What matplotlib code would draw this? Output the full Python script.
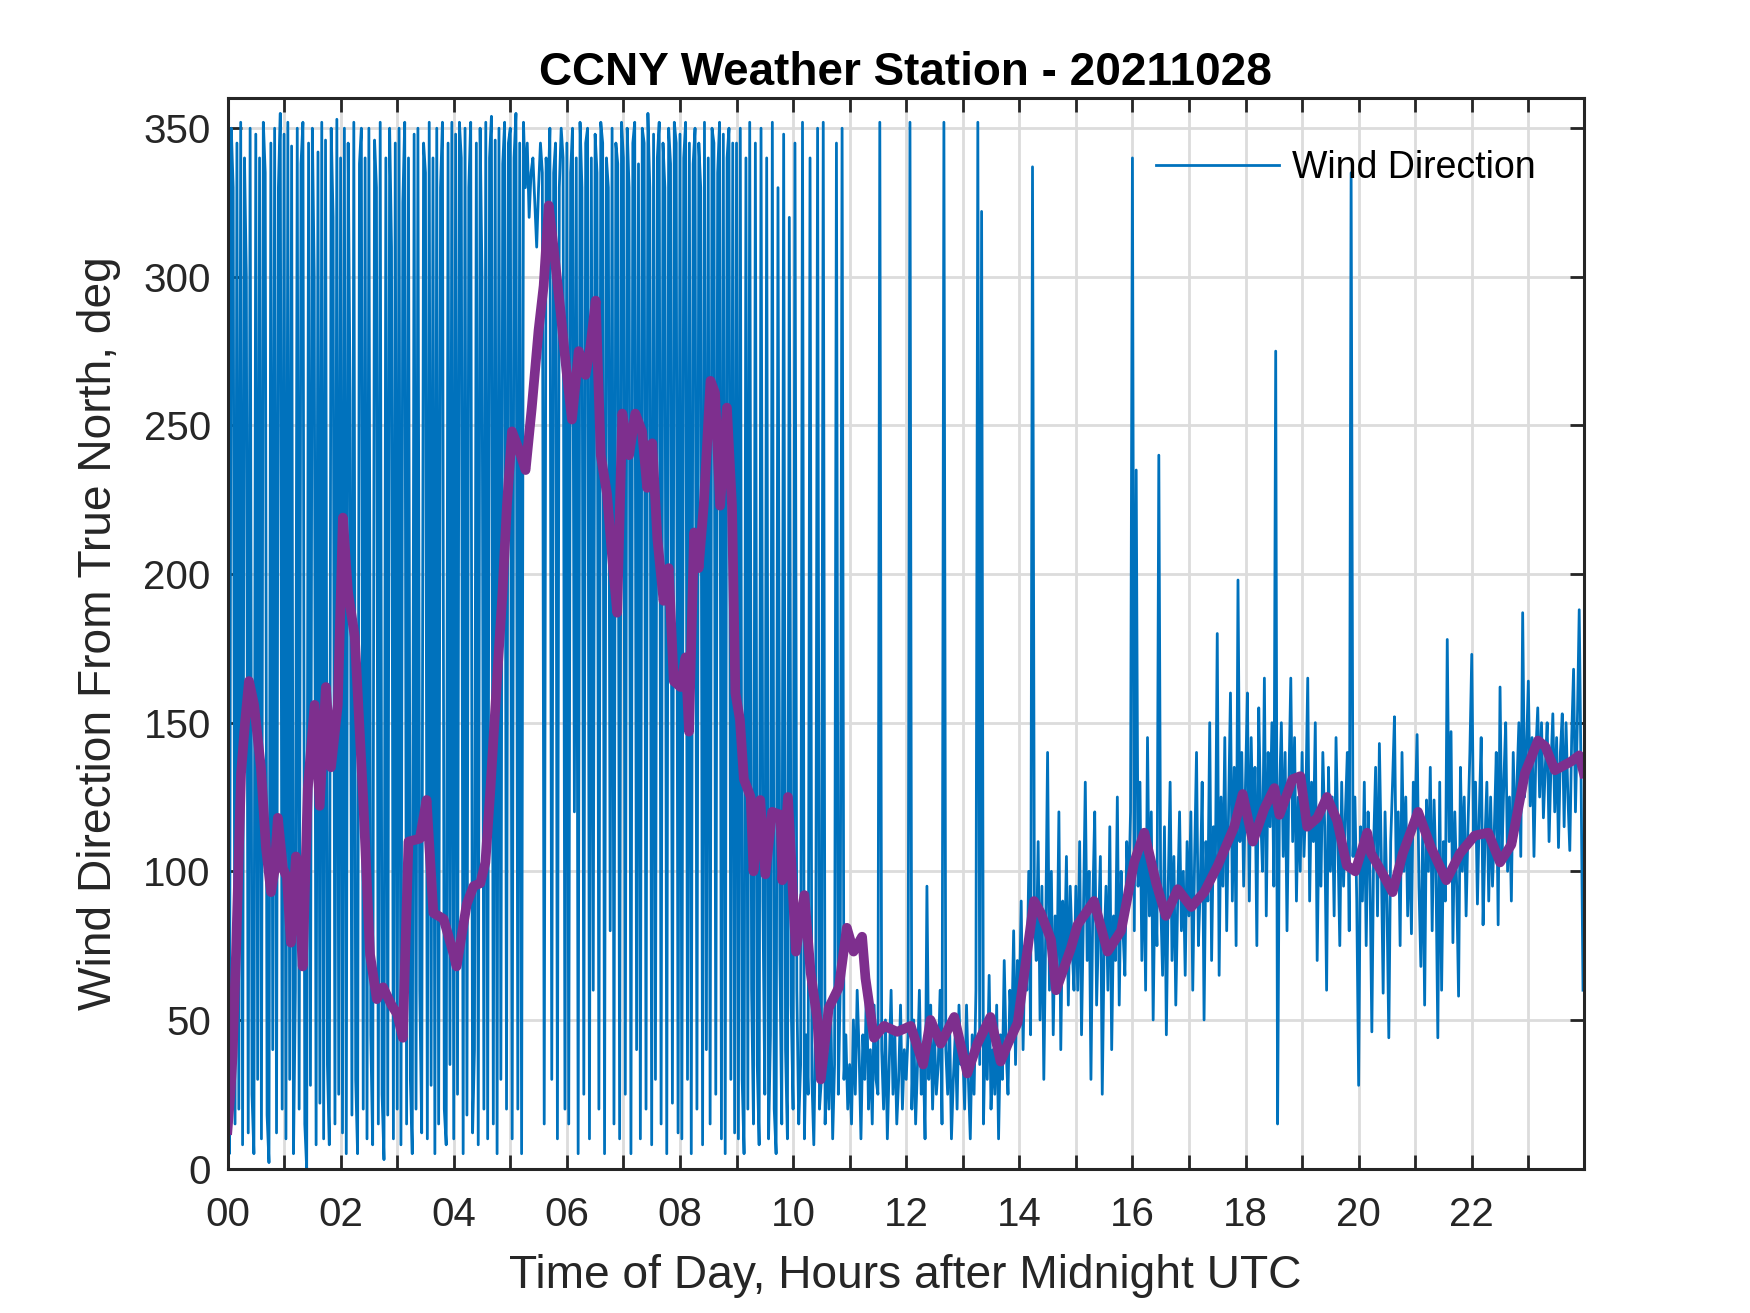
import numpy as np
import matplotlib
matplotlib.use("Agg")
import matplotlib.pyplot as plt

# wind direction (deg from true north), 2-minute samples, one list per hour
wd_00 = [140, 5, 350, 330, 15, 345, 20, 352, 8, 340, 300, 12, 350, 25, 5, 348, 30, 340, 10, 352, 335, 18, 2, 345, 40, 350, 12, 330, 355, 20]
wd_01 = [348, 10, 352, 30, 344, 5, 60, 350, 20, 338, 352, 15, 0, 345, 28, 350, 300, 8, 342, 22, 352, 10, 346, 35, 8, 350, 320, 15, 353, 25]
wd_02 = [340, 12, 350, 5, 345, 260, 18, 352, 30, 5, 338, 350, 20, 340, 10, 350, 45, 8, 346, 330, 15, 352, 25, 3, 340, 18, 350, 310, 10, 345]
wd_03 = [20, 350, 8, 325, 352, 15, 340, 30, 5, 348, 20, 350, 60, 12, 345, 335, 10, 352, 28, 340, 5, 350, 15, 330, 352, 20, 8, 345, 35, 352]
wd_04 = [10, 348, 25, 352, 340, 5, 350, 18, 330, 352, 12, 40, 345, 8, 350, 300, 20, 352, 10, 340, 354, 15, 346, 5, 350, 30, 338, 352, 20, 345]
wd_05 = [350, 10, 340, 355, 20, 345, 5, 352, 330, 345, 320, 335, 340, 325, 310, 330, 345, 335, 15, 340, 325, 350, 30, 335, 345, 10, 330, 350, 340, 20]
wd_06 = [345, 15, 335, 350, 120, 340, 5, 352, 330, 25, 345, 350, 10, 340, 60, 348, 335, 20, 352, 345, 5, 340, 330, 80, 350, 15, 345, 338, 10, 352]
wd_07 = [340, 25, 350, 330, 5, 345, 352, 40, 338, 10, 350, 345, 20, 355, 330, 8, 348, 30, 340, 352, 15, 345, 330, 5, 350, 338, 22, 352, 345, 12]
wd_08 = [348, 10, 340, 352, 30, 345, 5, 338, 350, 20, 345, 330, 8, 352, 40, 340, 15, 350, 345, 25, 335, 352, 10, 348, 5, 340, 350, 30, 345, 12]
wd_09 = [345, 10, 350, 30, 5, 340, 20, 352, 60, 15, 345, 35, 8, 350, 90, 25, 340, 10, 45, 352, 20, 5, 330, 70, 15, 348, 40, 10, 320, 55]
wd_10a = [20, 345, 60, 15, 35, 352, 10, 45, 25, 340, 30, 8, 50, 350, 20]
wd_10b = [30, 352, 15, 40, 20, 55, 10, 35, 345, 25, 60, 350, 30, 45, 20]
wd_11 = [35, 15, 50, 25, 60, 40, 10, 45, 30, 65, 20, 40, 15, 55, 30, 25, 352, 40, 20, 50, 10, 35, 60, 25, 45, 15, 30, 55, 20, 40]
wd_12 = [30, 45, 352, 20, 50, 15, 35, 60, 25, 40, 10, 95, 30, 55, 20, 45, 25, 35, 60, 15, 352, 40, 25, 50, 10, 30, 45, 20, 55, 35]
wd_13 = [40, 20, 55, 30, 10, 45, 25, 60, 352, 35, 322, 15, 50, 30, 65, 20, 40, 25, 55, 10, 45, 30, 70, 40, 25, 60, 45, 80, 35, 70]
wd_14 = [55, 90, 40, 75, 60, 100, 45, 337, 85, 70, 110, 50, 95, 30, 80, 140, 60, 100, 45, 85, 65, 120, 40, 90, 70, 105, 55, 95, 75, 60]
wd_15 = [95, 60, 110, 45, 85, 130, 70, 100, 30, 90, 120, 55, 80, 105, 25, 75, 95, 60, 115, 40, 85, 70, 125, 55, 100, 80, 65, 110, 90, 120]
wd_16 = [340, 80, 235, 95, 130, 70, 110, 60, 145, 85, 120, 50, 100, 75, 240, 90, 65, 115, 45, 95, 130, 70, 105, 55, 90, 120, 80, 100, 65, 110]
wd_17 = [85, 120, 60, 105, 140, 75, 95, 130, 50, 110, 90, 150, 70, 115, 100, 180, 65, 125, 95, 145, 80, 120, 160, 90, 135, 75, 198, 110, 140, 95]
wd_18 = [130, 160, 90, 145, 110, 135, 75, 155, 120, 100, 165, 85, 140, 115, 150, 95, 275, 15, 125, 150, 105, 140, 80, 130, 165, 110, 145, 90, 125, 100]
wd_19 = [140, 105, 125, 165, 90, 130, 110, 150, 70, 120, 95, 140, 115, 60, 135, 100, 125, 85, 145, 110, 75, 130, 95, 120, 140, 80, 335, 105, 125, 90]
wd_20 = [28, 115, 90, 130, 75, 120, 100, 46, 110, 135, 85, 143, 105, 59, 120, 90, 44, 110, 130, 152, 95, 120, 75, 140, 100, 125, 85, 115, 79, 130]
wd_21 = [120, 146, 95, 68, 115, 55, 124, 100, 135, 80, 124, 100, 44, 130, 60, 110, 90, 178, 110, 147, 76, 120, 95, 58, 135, 100, 125, 85, 115, 140]
wd_22 = [173, 110, 130, 89, 120, 145, 82, 110, 130, 90, 125, 95, 115, 140, 82, 162, 105, 130, 150, 100, 125, 90, 140, 110, 130, 150, 105, 187, 125, 140]
wd_23 = [164, 122, 145, 105, 140, 155, 125, 150, 118, 135, 150, 110, 135, 153, 120, 145, 108, 140, 153, 115, 150, 125, 107, 145, 168, 120, 150, 188, 130, 60]

# (start hour, span in hours, values)
blocks = [(0, 1, wd_00), (1, 1, wd_01), (2, 1, wd_02), (3, 1, wd_03), (4, 1, wd_04),
          (5, 1, wd_05), (6, 1, wd_06), (7, 1, wd_07), (8, 1, wd_08), (9, 1, wd_09),
          (10, 0.5, wd_10a), (10.5, 0.5, wd_10b), (11, 1, wd_11), (12, 1, wd_12),
          (13, 1, wd_13), (14, 1, wd_14), (15, 1, wd_15), (16, 1, wd_16), (17, 1, wd_17),
          (18, 1, wd_18), (19, 1, wd_19), (20, 1, wd_20), (21, 1, wd_21), (22, 1, wd_22),
          (23, 1, wd_23)]

# running mean (purple)
avg_hours = [0.00, 0.05, 0.09, 0.15, 0.24, 0.31, 0.38, 0.47, 0.59, 0.68, 0.77, 0.83, 0.89, 0.98,
             1.05, 1.12, 1.21, 1.27, 1.33, 1.42, 1.54, 1.63, 1.74, 1.83, 1.95, 2.04, 2.13, 2.25,
             2.40, 2.52, 2.64, 2.75, 2.90, 3.00, 3.10, 3.20, 3.40, 3.52, 3.64, 3.82, 4.00, 4.05,
             4.23, 4.35, 4.47, 4.56, 4.65, 4.77, 4.86, 4.94, 5.03, 5.15, 5.27, 5.38, 5.50, 5.59,
             5.68, 5.77, 5.89, 5.99, 6.09, 6.21, 6.33, 6.42, 6.51, 6.60, 6.71, 6.80, 6.89, 6.98,
             7.10, 7.21, 7.33, 7.42, 7.51, 7.60, 7.71, 7.80, 7.89, 8.01, 8.10, 8.16, 8.25, 8.33,
             8.42, 8.54, 8.62, 8.71, 8.83, 8.92, 8.98, 9.06, 9.13, 9.25, 9.30, 9.42, 9.51, 9.63,
             9.78, 9.81, 9.91, 10.05, 10.20, 10.31, 10.43, 10.49, 10.63, 10.81, 10.95, 11.07,
             11.22, 11.28, 11.43, 11.61, 11.84, 12.08, 12.30, 12.43, 12.61, 12.85, 13.08, 13.26,
             13.49, 13.67, 13.80, 13.97, 14.26, 14.38, 14.56, 14.65, 14.91, 15.03, 15.32, 15.56,
             15.80, 16.03, 16.21, 16.42, 16.59, 16.80, 17.04, 17.27, 17.51, 17.80, 17.95, 18.13,
             18.33, 18.51, 18.60, 18.83, 18.97, 19.09, 19.27, 19.44, 19.62, 19.79, 19.94, 20.15,
             20.22, 20.40, 20.60, 20.78, 21.05, 21.28, 21.55, 21.79, 22.05, 22.29, 22.50, 22.70,
             22.94, 23.17, 23.30, 23.47, 23.76, 23.90, 23.98]
avg_dir = [13, 25, 38, 72, 133, 150, 164, 156, 135, 108, 93, 100, 118, 101,
           98, 76, 105, 90, 68, 128, 156, 122, 162, 135, 156, 219, 194, 179,
           124, 72, 57, 61, 55, 52, 44, 110, 111, 124, 86, 84, 72, 68,
           89, 95, 96, 103, 128, 166, 193, 223, 248, 242, 235, 256, 282, 297,
           324, 309, 288, 269, 252, 275, 267, 277, 292, 240, 227, 206, 187, 254,
           240, 254, 248, 229, 244, 212, 191, 202, 164, 162, 172, 147, 214, 202,
           223, 265, 261, 223, 256, 223, 160, 151, 131, 125, 100, 124, 99, 120,
           119, 97, 125, 73, 92, 66, 50, 30, 54, 61, 81, 73,
           78, 64, 44, 48, 46, 48, 35, 50, 42, 51, 32, 42,
           51, 36, 42, 49, 90, 86, 77, 60, 74, 82, 90, 73,
           80, 103, 113, 96, 85, 94, 88, 93, 102, 115, 126, 110,
           121, 128, 119, 131, 132, 115, 118, 125, 117, 102, 100, 113,
           106, 100, 93, 106, 120, 108, 97, 106, 112, 113, 103, 109,
           133, 144, 142, 134, 137, 139, 133]

t_blue, d_blue = [], []
for start, span, vals in blocks:
    n = len(vals)
    t_blue.extend(start + np.arange(n) * span / n)
    d_blue.extend(vals)

plt.rcParams['font.family'] = ['Liberation Sans', 'DejaVu Sans']
dark = '#262626'

fig = plt.figure(figsize=(8.75, 6.565), dpi=200)
ax = fig.add_axes([0.13, 0.11, 0.775, 0.815])

ax.plot(t_blue, d_blue, color='#0072BD', linewidth=1.0, label='Wind Direction')
ax.plot(avg_hours, avg_dir, color='#7E2F8E', linewidth=3.5)

ax.set_xlim(0, 23.98)
ax.set_ylim(0, 360)
ax.set_yticks(np.arange(0, 351, 50))
ax.set_xticks(np.arange(0, 24))
ax.set_xticklabels(['%02d' % h if h % 2 == 0 else '' for h in range(24)])

ax.grid(True, color='#dcdcdc', linewidth=1.0)
ax.set_axisbelow(True)
ax.tick_params(direction='in', length=5, width=1.0, colors=dark, labelsize=14.5,
               top=True, right=True)
ax.tick_params(axis='x', pad=10)
ax.tick_params(axis='y', pad=6)
for s in ax.spines.values():
    s.set_color(dark)
    s.set_linewidth(1.1)

ax.set_xlabel('Time of Day, Hours after Midnight UTC', fontsize=16.6, color=dark, labelpad=7)
ax.set_ylabel('Wind Direction From True North, deg', fontsize=16.6, color=dark, labelpad=8)
ax.set_title('CCNY Weather Station - 20211028', fontsize=16.5, fontweight='bold', pad=5)

ax.legend(loc='upper right', bbox_to_anchor=(0.998, 0.994), frameon=False, fontsize=13.5,
          handlelength=3.3, handletextpad=0.35, borderaxespad=0.8)

fig.savefig('out.png', dpi=200)
